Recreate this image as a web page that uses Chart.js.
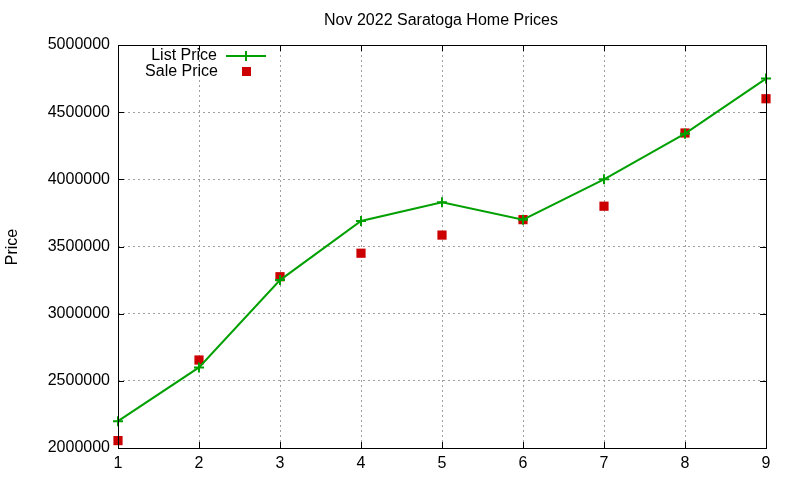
<!DOCTYPE html>
<html><head><meta charset="utf-8">
<script src="https://cdn.jsdelivr.net/npm/chart.js@4"></script>
<style>html,body{margin:0;padding:0;background:#fff}canvas{display:block}</style>
</head><body>
<canvas id="c" width="800" height="480"></canvas>
<script>
const months = [1, 2, 3, 4, 5, 6, 7, 8, 9];
const listPrice = [2200000, 2600000, 3250000, 3690000, 3830000, 3700000, 4000000, 4340000, 4750000];
const salePrice = [2055000, 2655000, 3275000, 3450000, 3585000, 3700000, 3800000, 4345000, 4600000];
const yTicks = [2000000, 2500000, 3000000, 3500000, 4000000, 4500000, 5000000];
const titleText = 'Nov 2022 Saratoga Home Prices';
const yLabel = 'Price';
const seriesNames = ['List Price', 'Sale Price'];

const FONT = '"Liberation Sans", Arial, sans-serif';
const GREEN = '#00a000', RED = '#cc0000';

const deco = {
  id: 'deco',
  afterDraw(chart) {
    const ctx = chart.ctx, a = chart.chartArea;
    const xs = chart.scales.x, ys = chart.scales.y;
    ctx.save();
    ctx.strokeStyle = '#000'; ctx.lineWidth = 1;
    ctx.strokeRect(a.left + 0.5, a.top + 0.5, a.right - a.left, a.bottom - a.top);
    ctx.beginPath();
    yTicks.forEach(v => {
      const y = Math.round(ys.getPixelForValue(v)) + 0.5;
      ctx.moveTo(a.left, y); ctx.lineTo(a.left + 6, y);
      ctx.moveTo(a.right, y); ctx.lineTo(a.right - 6, y);
    });
    months.forEach(v => {
      const x = Math.round(xs.getPixelForValue(v)) + 0.5;
      ctx.moveTo(x, a.bottom); ctx.lineTo(x, a.bottom - 6);
      ctx.moveTo(x, a.top); ctx.lineTo(x, a.top + 6);
    });
    ctx.stroke();
    ctx.fillStyle = '#000';
    ctx.font = '16px ' + FONT;
    ctx.textAlign = 'center'; ctx.textBaseline = 'middle';
    ctx.fillText(titleText, 441, 21);
    ctx.save();
    ctx.translate(13, 247); ctx.rotate(-Math.PI / 2);
    ctx.font = '16px ' + FONT;
    ctx.fillText(yLabel, 0, 0);
    ctx.restore();
    ctx.font = '16px ' + FONT;
    ctx.textAlign = 'right';
    ctx.fillText(seriesNames[0], 217, 56);
    ctx.fillText(seriesNames[1], 218, 72);
    ctx.strokeStyle = GREEN; ctx.lineWidth = 2;
    ctx.beginPath();
    ctx.moveTo(226, 56); ctx.lineTo(266, 56);
    ctx.moveTo(246, 51); ctx.lineTo(246, 61);
    ctx.stroke();
    ctx.fillStyle = RED;
    ctx.fillRect(242, 67, 9, 9);
    ctx.restore();
  }
};

new Chart(document.getElementById('c'), {
  type: 'line',
  data: {
    datasets: [
      {
        label: seriesNames[0],
        data: months.map((m, i) => ({x: m, y: listPrice[i]})),
        borderColor: GREEN, backgroundColor: GREEN,
        borderWidth: 2, pointStyle: 'cross', pointRadius: 5, pointBorderWidth: 2,
        tension: 0, clip: false
      },
      {
        label: seriesNames[1],
        data: months.map((m, i) => ({x: m, y: salePrice[i]})),
        showLine: false,
        borderColor: RED, backgroundColor: RED,
        pointStyle: 'rect', pointRadius: 6.5, pointBorderWidth: 0,
        clip: false
      }
    ]
  },
  options: {
    responsive: false, animation: false, devicePixelRatio: 1,
    layout: {padding: {top: 45, right: 34, left: 0, bottom: 0}},
    plugins: {legend: {display: false}, title: {display: false}, tooltip: {enabled: false}},
    scales: {
      x: {
        type: 'linear', min: 1, max: 9,
        afterBuildTicks: s => { s.ticks = months.map(v => ({value: v})); },
        afterFit: s => { s.height = 32; },
        grid: {color: '#a0a0a0', lineWidth: 1, drawTicks: false},
        border: {display: false, dash: [2, 3]},
        ticks: {color: '#000', font: {family: FONT, size: 16}, padding: 6, maxRotation: 0,
                callback: v => String(v)}
      },
      y: {
        type: 'linear', min: 2000000, max: 5000000,
        afterBuildTicks: s => { s.ticks = yTicks.map(v => ({value: v})); },
        afterFit: s => { s.width = 118; },
        grid: {color: '#a0a0a0', lineWidth: 1, drawTicks: false},
        border: {display: false, dash: [2, 3]},
        ticks: {color: '#000', font: {family: FONT, size: 16}, padding: 8,
                callback: v => String(v)}
      }
    }
  },
  plugins: [deco]
});
</script>
</body></html>
